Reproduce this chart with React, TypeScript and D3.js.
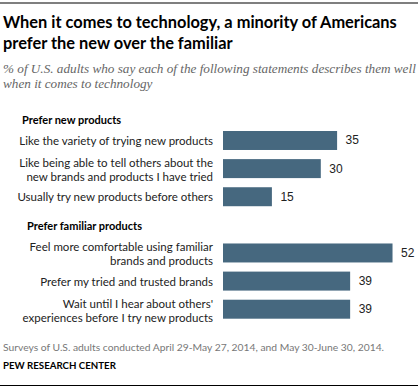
import * as d3 from "d3";
import { useEffect, useRef } from "react";

// data
const groups = ["Prefer new products", "Prefer familiar products"];
const categories = [
  "Like the variety of trying new products",
  "Like being able to tell others about the\nnew brands and products I have tried",
  "Usually try new products before others",
  "Feel more comfortable using familiar\nbrands and products",
  "Prefer my tried and trusted brands",
  "Wait until I hear about others'\nexperiences before I try new products",
];
const values = [35, 30, 15, 52, 39, 39];
const groupOf = [0, 0, 0, 1, 1, 1];

const W = 420;
const H = 391;
const BAR = "#46687f";
const SANS = "Lato, Roboto, sans-serif";

const App = () => {
  const ref = useRef<SVGSVGElement>(null);

  useEffect(() => {
    const svg = d3.select(ref.current);
    svg.selectAll("*").remove();

    // rows: 3 bars, an empty slot for the second header, 3 bars
    const rowKeys = categories.map((_, i) => (groupOf[i] === 0 ? i : i + 1));
    const y = d3
      .scaleBand<number>()
      .domain(d3.range(categories.length + 1))
      .range([131, 318.7])
      .paddingInner(0.325)
      .paddingOuter(0);
    const x = d3.scaleLinear().domain([0, 100]).range([223, 549]);

    // rules top and bottom
    svg.append("line").attr("x1", 0).attr("x2", 418).attr("y1", 3).attr("y2", 3)
      .attr("stroke", "#000").attr("stroke-width", 1.2);
    svg.append("line").attr("x1", 0).attr("x2", 418).attr("y1", 385.5).attr("y2", 385.5)
      .attr("stroke", "#000").attr("stroke-width", 1.2);

    // title
    const title = svg.append("text")
      .attr("font-family", SANS).attr("font-weight", "bold").attr("font-size", 16.4)
      .attr("fill", "#000");
    title.append("tspan").attr("x", 3).attr("y", 28)
      .text("When it comes to technology, a minority of Americans");
    title.append("tspan").attr("x", 3).attr("y", 48.5)
      .text("prefer the new over the familiar");

    // subtitle
    const sub = svg.append("text")
      .attr("font-family", "'Liberation Serif', 'DejaVu Serif', serif")
      .attr("font-style", "italic").attr("font-size", 13.2).attr("fill", "#666");
    sub.append("tspan").attr("x", 3).attr("y", 73)
      .text("% of U.S. adults who say each of the following  statements describes them well");
    sub.append("tspan").attr("x", 3).attr("y", 87.5)
      .text("when it comes to technology");

    // group headers
    groups.forEach((g, gi) => {
      const first = rowKeys[groupOf.indexOf(gi)];
      svg.append("text")
        .attr("x", gi === 0 ? 22 : 27)
        .attr("y", (y(first) as number) - (gi === 0 ? 7 : 13))
        .attr("font-family", SANS).attr("font-weight", "bold").attr("font-size", 11)
        .attr("fill", "#000")
        .text(g);
    });

    // bars
    svg.append("g").selectAll("rect")
      .data(values).enter()
      .append("rect")
      .attr("x", x(0))
      .attr("y", (_, i) => y(rowKeys[i]) as number)
      .attr("width", (d) => x(d) - x(0))
      .attr("height", y.bandwidth())
      .attr("fill", BAR);

    // value labels
    svg.append("g").selectAll("text")
      .data(values).enter()
      .append("text")
      .attr("x", (d) => x(d) + 8.5)
      .attr("y", (_, i) => (y(rowKeys[i]) as number) + y.bandwidth() / 2 + 4)
      .attr("font-family", "'Liberation Sans', Arial, sans-serif").attr("font-size", 12)
      .attr("fill", "#222")
      .text((d) => d);

    // category labels
    categories.forEach((c, i) => {
      const lines = c.split("\n");
      const cy = (y(rowKeys[i]) as number) + y.bandwidth() / 2;
      const t = svg.append("text")
        .attr("text-anchor", "end")
        .attr("font-family", SANS).attr("font-size", 11.5)
        .attr("fill", "#222");
      lines.forEach((l, li) => {
        t.append("tspan")
          .attr("x", 213)
          .attr("y", lines.length === 1 ? cy + 4.5 : cy - 1.5 + li * 14)
          .text(l);
      });
    });

    // footer
    svg.append("text").attr("x", 3).attr("y", 350.5)
      .attr("font-family", SANS).attr("font-size", 10.3).attr("fill", "#777")
      .text("Surveys of U.S. adults conducted April 29-May 27, 2014, and May 30-June 30, 2014.");
    svg.append("text").attr("x", 3).attr("y", 369)
      .attr("font-family", SANS).attr("font-weight", "bold").attr("font-size", 9.7)
      .attr("fill", "#000")
      .text("PEW RESEARCH CENTER");
  }, []);

  return (
    <svg
      ref={ref}
      width={W}
      height={H}
      style={{ position: "absolute", left: 0, top: 0, background: "#fff" }}
    />
  );
};

export default App;
